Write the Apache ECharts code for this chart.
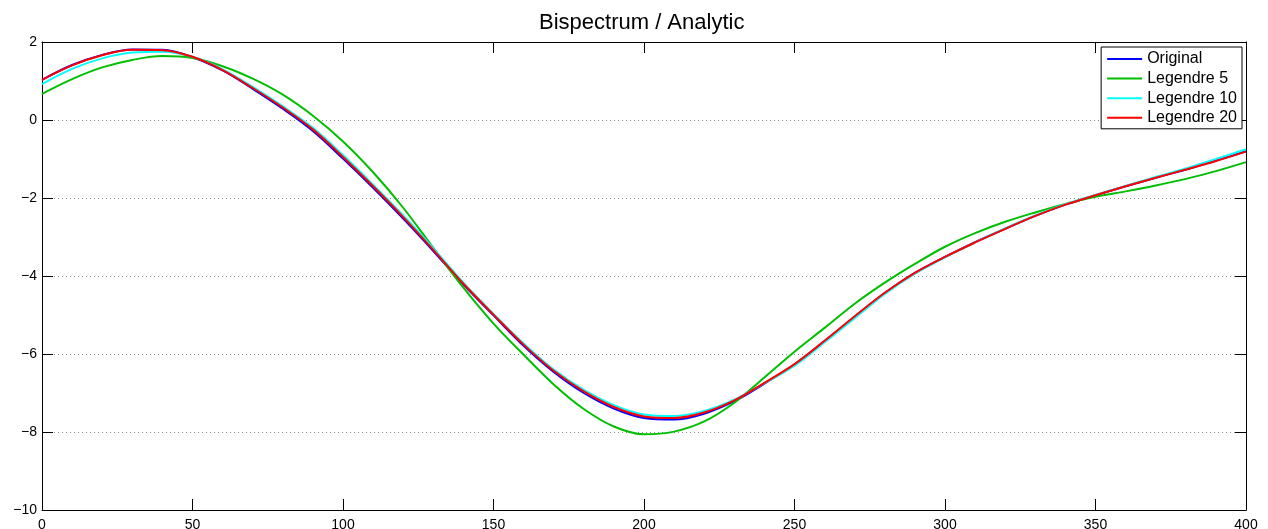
<!DOCTYPE html>
<html>
<head>
<meta charset="utf-8">
<title>Bispectrum / Analytic</title>
<script src="https://cdn.jsdelivr.net/npm/echarts@6/dist/echarts.min.js"></script>
<style>
  html, body { margin: 0; padding: 0; background: #fff; }
  #chart { width: 1268px; height: 529px; }
</style>
</head>
<body>
<div id="chart"></div>
<script>
// Sample positions along the horizontal axis
const xs = [0,10,20,30,40,50,60,70,80,90,100,110,120,130,140,150,160,170,180,190,200,
            210,220,230,240,250,260,270,280,290,300,310,320,330,340,350,360,370,380,390,400];

// Reference curve
const original = [1.03,1.41,1.67,1.81,1.80,1.61,1.27,0.80,0.29,-0.28,-0.99,-1.74,-2.53,-3.36,-4.22,-5.01,-5.79,-6.46,-7.00,-7.40,-7.64,
                  -7.68,-7.53,-7.21,-6.76,-6.27,-5.67,-5.05,-4.44,-3.92,-3.51,-3.13,-2.79,-2.46,-2.17,-1.93,-1.70,-1.48,-1.27,-1.04,-0.80];

// Legendre reconstructions of increasing order
const legendre5 = [0.67,1.05,1.35,1.54,1.64,1.59,1.38,1.06,0.65,0.11,-0.55,-1.34,-2.25,-3.28,-4.30,-5.22,-6.02,-6.78,-7.41,-7.86,-8.06,
                   -7.99,-7.73,-7.25,-6.60,-5.94,-5.33,-4.71,-4.17,-3.69,-3.25,-2.90,-2.61,-2.37,-2.15,-1.97,-1.83,-1.68,-1.51,-1.31,-1.08];

const legendre10 = [0.92,1.31,1.58,1.73,1.75,1.62,1.30,0.85,0.35,-0.20,-0.90,-1.66,-2.45,-3.29,-4.17,-4.97,-5.73,-6.40,-6.92,-7.31,-7.55,
                    -7.59,-7.46,-7.17,-6.75,-6.30,-5.70,-5.08,-4.46,-3.94,-3.52,-3.14,-2.78,-2.45,-2.16,-1.92,-1.69,-1.46,-1.24,-1.00,-0.75];

const legendre20 = [1.03,1.40,1.66,1.80,1.79,1.62,1.28,0.82,0.32,-0.24,-0.95,-1.70,-2.49,-3.33,-4.20,-4.99,-5.76,-6.43,-6.96,-7.36,-7.60,
                    -7.64,-7.50,-7.19,-6.74,-6.26,-5.66,-5.03,-4.43,-3.92,-3.51,-3.14,-2.79,-2.46,-2.17,-1.93,-1.70,-1.48,-1.27,-1.05,-0.81];

const seriesNames = ['Original', 'Legendre 5', 'Legendre 10', 'Legendre 20'];
const seriesColors = ['#0000ff', '#00bf00', '#00ffff', '#ff0000'];
const seriesValues = [original, legendre5, legendre10, legendre20];

const FONT = "'Liberation Sans', Arial, Helvetica, sans-serif";
const minus = v => (v < 0 ? '\u2212' + Math.abs(v) : String(v));

const chart = echarts.init(document.getElementById('chart'), null, { renderer: 'canvas' });

// Boxed frame: labelled axes at bottom/left, tick-only copies at top/right
const frameAxisX = (pos, labels) => ({
  type: 'value', position: pos, min: 0, max: 400, interval: 50,
  axisLine: { show: true, onZero: false, lineStyle: { color: '#000', width: 1 } },
  axisTick: { show: true, inside: true, length: 11, lineStyle: { color: '#000', width: 1 } },
  axisLabel: { show: labels, color: '#000', fontFamily: FONT, fontSize: 14, margin: 8 },
  splitLine: { show: false }
});

const frameAxisY = (pos, labels, grid) => ({
  type: 'value', position: pos, min: -10, max: 2, interval: 2,
  axisLine: { show: true, onZero: false, lineStyle: { color: '#000', width: 1 } },
  axisTick: { show: true, inside: true, length: 11, lineStyle: { color: '#000', width: 1 } },
  axisLabel: { show: labels, color: '#000', fontFamily: FONT, fontSize: 14, margin: 5, formatter: minus },
  splitLine: { show: grid, lineStyle: { color: '#8a8a8a', width: 1, type: [1, 3] } }
});

chart.setOption({
  animation: false,
  backgroundColor: '#ffffff',
  title: {
    text: 'Bispectrum / Analytic',
    left: 539,
    top: 12,
    padding: 0,
    textStyle: { fontFamily: FONT, fontSize: 22, fontWeight: 'normal', color: '#000' }
  },
  grid: { left: 42, right: 22, top: 42, bottom: 19, containLabel: false, outerBoundsMode: 'none' },
  xAxis: [frameAxisX('bottom', true), frameAxisX('top', false)],
  yAxis: [frameAxisY('left', true, true), frameAxisY('right', false, false)],
  legend: {
    orient: 'vertical',
    right: 26,
    top: 47,
    icon: 'rect',
    itemWidth: 35,
    itemHeight: 2,
    itemGap: 3.6,
    padding: [4, 5, 3, 6],
    backgroundColor: '#fff',
    borderColor: '#000',
    borderWidth: 1,
    borderRadius: 0,
    textStyle: { fontFamily: FONT, fontSize: 16, lineHeight: 16, color: '#000' },
    data: seriesNames
  },
  series: seriesNames.map((name, i) => ({
    name: name,
    type: 'line',
    xAxisIndex: 0,
    yAxisIndex: 0,
    smooth: 0.35,
    symbol: 'none',
    color: seriesColors[i],
    lineStyle: { color: seriesColors[i], width: 2 },
    data: xs.map((x, k) => [x, seriesValues[i][k]]),
    z: 2 + i
  }))
});
</script>
</body>
</html>
